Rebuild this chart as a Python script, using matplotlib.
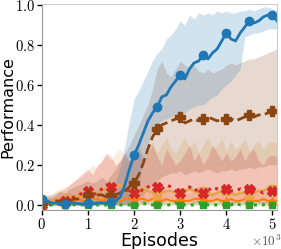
import numpy as np
import matplotlib as mpl

mpl.use("Agg")
import matplotlib.pyplot as plt

# episodes, every 100
episodes = np.arange(0, 5101, 100)

blue_mean = [0.03, 0.02, 0.01, 0.01, 0.005, 0.005, 0.01, 0.01, 0.005, 0.005,
             0.01, 0.005, 0.01, 0.01, 0.01, 0.015, 0.02, 0.04, 0.10, 0.18,
             0.25, 0.30, 0.36, 0.42, 0.46, 0.49, 0.54, 0.55, 0.59, 0.62,
             0.65, 0.63, 0.68, 0.71, 0.72, 0.75, 0.73, 0.76, 0.78, 0.82,
             0.86, 0.83, 0.82, 0.86, 0.89, 0.92, 0.91, 0.92, 0.94, 0.95,
             0.95, 0.92]
blue_hi = [0.05, 0.04, 0.03, 0.03, 0.02, 0.02, 0.03, 0.03, 0.02, 0.02,
           0.03, 0.02, 0.03, 0.03, 0.03, 0.06, 0.12, 0.19, 0.30, 0.42,
           0.53, 0.57, 0.62, 0.67, 0.72, 0.76, 0.78, 0.83, 0.85, 0.88,
           0.92, 0.90, 0.95, 0.93, 0.96, 0.95, 0.96, 0.95, 0.97, 0.96,
           0.97, 0.96, 0.96, 0.97, 0.97, 0.98, 0.97, 0.98, 0.99, 0.99,
           0.98, 0.97]
blue_lo = [0.0, 0.0, 0.0, 0.0, 0.0, 0.0, 0.0, 0.0, 0.0, 0.0,
           0.0, 0.0, 0.0, 0.0, 0.0, 0.0, 0.0, 0.0, 0.0, 0.01,
           0.05, 0.12, 0.20, 0.30, 0.38, 0.40, 0.42, 0.43, 0.44, 0.45,
           0.45, 0.46, 0.48, 0.49, 0.50, 0.50, 0.52, 0.54, 0.55, 0.58,
           0.60, 0.62, 0.65, 0.68, 0.84, 0.85, 0.86, 0.86, 0.87, 0.88,
           0.88, 0.88]

brown_mean = [0.01, 0.02, 0.01, 0.02, 0.02, 0.01, 0.02, 0.03, 0.03, 0.04,
              0.05, 0.04, 0.05, 0.05, 0.04, 0.05, 0.05, 0.06, 0.07, 0.09,
              0.11, 0.15, 0.21, 0.28, 0.34, 0.38, 0.40, 0.41, 0.42, 0.43,
              0.44, 0.41, 0.42, 0.43, 0.42, 0.43, 0.44, 0.43, 0.42, 0.43,
              0.43, 0.43, 0.42, 0.43, 0.44, 0.45, 0.44, 0.45, 0.45, 0.46,
              0.47, 0.48]
brown_hi = [0.04, 0.05, 0.05, 0.06, 0.07, 0.06, 0.08, 0.09, 0.10, 0.11,
            0.12, 0.11, 0.12, 0.14, 0.12, 0.15, 0.18, 0.22, 0.26, 0.30,
            0.35, 0.40, 0.45, 0.50, 0.58, 0.68, 0.72, 0.66, 0.64, 0.68,
            0.72, 0.70, 0.68, 0.70, 0.67, 0.66, 0.68, 0.66, 0.67, 0.68,
            0.70, 0.71, 0.70, 0.71, 0.72, 0.73, 0.73, 0.74, 0.75, 0.76,
            0.77, 0.78]
brown_lo = [0.0, 0.0, 0.0, 0.0, 0.0, 0.0, 0.0, 0.0, 0.0, 0.0,
            0.0, 0.0, 0.0, 0.0, 0.0, 0.0, 0.0, 0.0, 0.0, 0.0,
            0.0, 0.02, 0.05, 0.08, 0.10, 0.12, 0.14, 0.15, 0.16, 0.16,
            0.17, 0.15, 0.16, 0.17, 0.16, 0.17, 0.18, 0.17, 0.16, 0.17,
            0.17, 0.18, 0.17, 0.18, 0.18, 0.19, 0.18, 0.19, 0.19, 0.20,
            0.20, 0.20]

red_mean = [0.0, 0.01, 0.0, 0.01, 0.02, 0.02, 0.03, 0.04, 0.05, 0.06,
            0.07, 0.05, 0.06, 0.08, 0.10, 0.09, 0.07, 0.06, 0.08, 0.07,
            0.06, 0.08, 0.07, 0.09, 0.10, 0.09, 0.08, 0.10, 0.09, 0.07,
            0.06, 0.08, 0.09, 0.07, 0.08, 0.06, 0.07, 0.09, 0.08, 0.07,
            0.08, 0.07, 0.07, 0.08, 0.07, 0.08, 0.08, 0.07, 0.06, 0.07,
            0.07, 0.07]
red_hi = [0.02, 0.03, 0.03, 0.05, 0.07, 0.08, 0.10, 0.12, 0.14, 0.16,
          0.18, 0.15, 0.20, 0.22, 0.26, 0.24, 0.20, 0.22, 0.26, 0.22,
          0.24, 0.28, 0.22, 0.26, 0.30, 0.24, 0.20, 0.28, 0.24, 0.20,
          0.22, 0.26, 0.30, 0.22, 0.26, 0.20, 0.24, 0.30, 0.26, 0.22,
          0.26, 0.22, 0.24, 0.28, 0.22, 0.26, 0.28, 0.22, 0.20, 0.24,
          0.25, 0.24]
red_lo = [0.0, 0.0, 0.0, 0.0, 0.0, 0.0, 0.0, 0.0, 0.0, 0.01,
          0.01, 0.0, 0.01, 0.01, 0.02, 0.02, 0.01, 0.01, 0.02, 0.01,
          0.01, 0.02, 0.01, 0.02, 0.02, 0.02, 0.01, 0.02, 0.02, 0.01,
          0.01, 0.02, 0.02, 0.01, 0.02, 0.01, 0.01, 0.02, 0.02, 0.01,
          0.02, 0.01, 0.01, 0.02, 0.01, 0.02, 0.02, 0.01, 0.01, 0.01,
          0.01, 0.01]

tan_mean = [0.01, 0.01, 0.02, 0.02, 0.03, 0.03, 0.03, 0.04, 0.04, 0.05,
            0.05, 0.06, 0.06, 0.07, 0.08, 0.07, 0.09, 0.10, 0.08, 0.07,
            0.06, 0.07, 0.08, 0.07, 0.06, 0.05, 0.06, 0.07, 0.07, 0.06,
            0.06, 0.07, 0.08, 0.07, 0.06, 0.07, 0.06, 0.05, 0.06, 0.07,
            0.07, 0.06, 0.05, 0.06, 0.06, 0.05, 0.06, 0.07, 0.07, 0.08,
            0.08, 0.08]
tan_hi = [0.03, 0.04, 0.05, 0.07, 0.08, 0.09, 0.10, 0.12, 0.13, 0.15,
          0.17, 0.20, 0.18, 0.22, 0.25, 0.22, 0.26, 0.28, 0.24, 0.22,
          0.26, 0.30, 0.25, 0.28, 0.32, 0.26, 0.30, 0.34, 0.28, 0.26,
          0.30, 0.34, 0.28, 0.32, 0.26, 0.30, 0.34, 0.28, 0.30, 0.33,
          0.27, 0.32, 0.28, 0.30, 0.33, 0.27, 0.30, 0.32, 0.28, 0.31,
          0.32, 0.30]
tan_lo = [0.0, 0.0, 0.0, 0.0, 0.0, 0.0, 0.0, 0.0, 0.0, 0.0,
          0.0, 0.0, 0.0, 0.01, 0.01, 0.01, 0.01, 0.01, 0.01, 0.01,
          0.01, 0.01, 0.01, 0.01, 0.01, 0.01, 0.01, 0.01, 0.01, 0.01,
          0.01, 0.01, 0.01, 0.01, 0.01, 0.01, 0.01, 0.01, 0.01, 0.01,
          0.01, 0.01, 0.01, 0.01, 0.01, 0.01, 0.01, 0.01, 0.01, 0.01,
          0.01, 0.01]

orange_mean = [0.0, 0.01, 0.01, 0.01, 0.02, 0.02, 0.02, 0.02, 0.03, 0.02,
               0.02, 0.03, 0.03, 0.02, 0.03, 0.03, 0.03, 0.02, 0.03, 0.03,
               0.02, 0.03, 0.03, 0.02, 0.03, 0.03, 0.02, 0.03, 0.02, 0.02,
               0.03, 0.02, 0.02, 0.03, 0.03, 0.03, 0.02, 0.02, 0.03, 0.02,
               0.02, 0.03, 0.02, 0.02, 0.03, 0.03, 0.02, 0.02, 0.03, 0.02,
               0.02, 0.02]
orange_hi = [0.02, 0.03, 0.04, 0.04, 0.05, 0.06, 0.06, 0.05, 0.07, 0.06,
             0.06, 0.07, 0.07, 0.06, 0.07, 0.07, 0.07, 0.06, 0.07, 0.07,
             0.06, 0.07, 0.07, 0.06, 0.07, 0.07, 0.06, 0.07, 0.06, 0.06,
             0.07, 0.06, 0.06, 0.07, 0.07, 0.07, 0.06, 0.06, 0.07, 0.06,
             0.06, 0.07, 0.06, 0.06, 0.07, 0.07, 0.06, 0.06, 0.07, 0.06,
             0.06, 0.06]
orange_lo = [0.0] * len(orange_mean)

green_mean = [0.0, 0.0, 0.0, 0.01, 0.0, 0.0, 0.01, 0.0, 0.0, 0.0,
              0.0, 0.01, 0.0, 0.0, 0.0, 0.0, 0.01, 0.0, 0.0, 0.0,
              0.0, 0.0, 0.01, 0.0, 0.0, 0.0, 0.0, 0.0, 0.0, 0.01,
              0.0, 0.0, 0.0, 0.0, 0.01, 0.0, 0.0, 0.0, 0.0, 0.0,
              0.0, 0.0, 0.01, 0.0, 0.0, 0.0, 0.0, 0.0, 0.0, 0.01,
              0.0, 0.0]
green_hi = [0.015, 0.015, 0.015, 0.025, 0.015, 0.015, 0.025, 0.015, 0.015, 0.015,
            0.015, 0.025, 0.015, 0.015, 0.015, 0.015, 0.025, 0.015, 0.015, 0.015,
            0.015, 0.015, 0.025, 0.015, 0.015, 0.015, 0.015, 0.015, 0.015, 0.025,
            0.015, 0.015, 0.015, 0.015, 0.025, 0.015, 0.015, 0.015, 0.015, 0.015,
            0.015, 0.015, 0.025, 0.015, 0.015, 0.015, 0.015, 0.015, 0.015, 0.025,
            0.015, 0.015]
green_lo = [0.0] * len(green_mean)

plt.rcParams["mathtext.fontset"] = "cm"
plt.rcParams["font.family"] = "serif"
plt.rcParams["font.serif"] = ["cmr10"]
plt.rcParams["axes.formatter.use_mathtext"] = True

fig = plt.figure(figsize=(2.81, 2.49), dpi=100)
ax = fig.add_axes([0.149, 0.157, 0.837, 0.827])

series = [
    # name, mean, lo, hi, color, linestyle, marker, lw, ms
    ("orange", orange_mean, orange_lo, orange_hi, "#ff7f0e", "-", "^", 1.5, 5.5),
    ("tan", tan_mean, tan_lo, tan_hi, "#e6a450", "-", "s", 2.0, 5.5),
    ("red", red_mean, red_lo, red_hi, "#d62728", ":", "X", 2.2, 6.5),
    ("green", green_mean, green_lo, green_hi, "#2ca02c", ":", "s", 2.2, 5),
    ("brown", brown_mean, brown_lo, brown_hi, "#8b4513", "--", "P", 2.0, 6.5),
    ("blue", blue_mean, blue_lo, blue_hi, "#1f77b4", "-", "o", 2.0, 6),
]

for name, mean, lo, hi, color, ls, mk, lw, ms in series:
    ax.fill_between(episodes, lo, hi, color=color, alpha=0.2, linewidth=0)

for name, mean, lo, hi, color, ls, mk, lw, ms in series:
    ax.plot(episodes, mean, color=color, linestyle=ls, marker=mk,
            markevery=5, linewidth=lw, markersize=ms)

ax.set_xlim(0, 5100)
ax.set_ylim(-0.025, 1.005)
ax.set_yticks([0.0, 0.2, 0.4, 0.6, 0.8, 1.0])
ax.set_xticks([0, 1000, 2000, 3000, 4000, 5000])
ax.ticklabel_format(axis="x", style="sci", scilimits=(3, 3))
ax.yaxis.set_major_formatter(mpl.ticker.FormatStrFormatter(r"$\mathrm{%.1f}$"))
ax.tick_params(labelsize=10.5, length=3.5, width=1, colors="black", pad=1.5)
ax.xaxis.get_offset_text().set_visible(False)
fig.text(1.0, 0.0, r"$\times10^{3}$", fontsize=9.5, color="#555555",
         ha="right", va="bottom")

for side in ["left", "bottom"]:
    ax.spines[side].set_color("#999999")
for side in ["top", "right"]:
    ax.spines[side].set_color("#cccccc")

ax.set_xlabel("Episodes", fontsize=12.5, family="DejaVu Sans")
ax.xaxis.set_label_coords(0.5, -0.15)
ax.xaxis.label.set_verticalalignment("center")
ax.set_ylabel("Performance", fontsize=11.5, family="DejaVu Sans")
ax.yaxis.set_label_coords(-0.143, 0.5)
ax.yaxis.label.set_verticalalignment("center")

fig.savefig("out.png", dpi=100)
